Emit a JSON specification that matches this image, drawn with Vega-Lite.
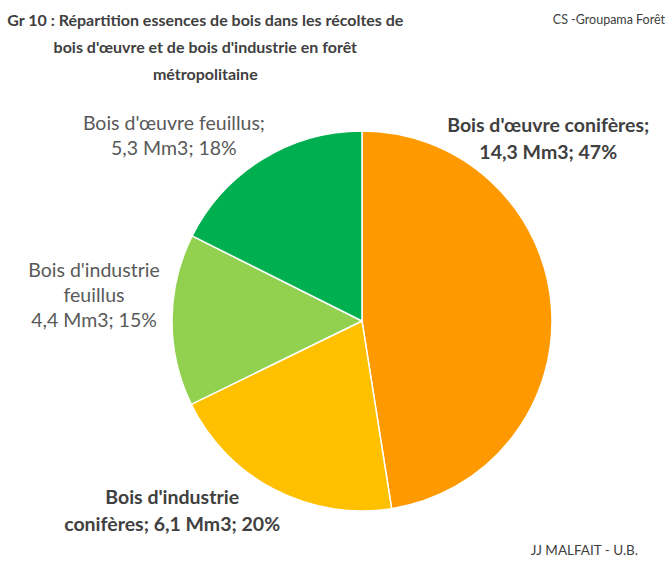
{
  "$schema": "https://vega.github.io/schema/vega-lite/v6.json",
  "autosize": "none",
  "width": 380,
  "height": 380,
  "padding": {"left": 172, "top": 131, "right": 116, "bottom": 55},
  "background": "white",
  "config": {"view": {"stroke": null}, "font": "Lato"},
  "title": {
    "text": ["Gr 10 : Répartition essences de bois dans les récoltes de", "bois d'œuvre et de bois d'industrie en forêt", "métropolitaine"],
    "anchor": "start",
    "align": "center",
    "baseline": "top",
    "dx": 177,
    "dy": 152,
    "offset": 0,
    "font": "Lato",
    "fontSize": 16,
    "fontWeight": "bold",
    "color": "#404040",
    "lineHeight": 27
  },
  "data": {
    "values": [
      {"ordre": 1, "essence": "Bois d'œuvre conifères", "volume": 14.3, "label": "Bois d'œuvre conifères;\n14,3 Mm3; 47%"},
      {"ordre": 2, "essence": "Bois d'industrie conifères", "volume": 6.1, "label": "Bois d'industrie\nconifères; 6,1 Mm3; 20%"},
      {"ordre": 3, "essence": "Bois d'industrie feuillus", "volume": 4.4, "label": "Bois d'industrie\nfeuillus\n4,4 Mm3; 15%"},
      {"ordre": 4, "essence": "Bois d'œuvre feuillus", "volume": 5.3, "label": "Bois d'œuvre feuillus;\n5,3 Mm3; 18%"}
    ]
  },
  "layer": [
    {
      "mark": {"type": "arc", "outerRadius": 190, "stroke": "white", "strokeWidth": 1.5},
      "encoding": {
        "theta": {"field": "volume", "type": "quantitative", "stack": true},
        "order": {"field": "ordre", "type": "ordinal"},
        "color": {
          "field": "essence", "type": "nominal", "legend": null,
          "scale": {
            "domain": ["Bois d'œuvre conifères", "Bois d'industrie conifères", "Bois d'industrie feuillus", "Bois d'œuvre feuillus"],
            "range": ["#FF9900", "#FFC000", "#92D050", "#00B050"]
          }
        }
      }
    },
    {
      "mark": {"type": "text", "radius": 240, "dx": -53, "dy": -176, "fontWeight": "bold", "fontSize": 19.5, "color": "#404040", "lineBreak": "\n", "align": "center", "baseline": "middle", "lineHeight": 27},
      "encoding": {
        "theta": {"field": "volume", "type": "quantitative", "stack": true},
        "order": {"field": "ordre", "type": "ordinal"},
        "text": {"condition": {"test": "datum.ordre === 1", "field": "label"}, "value": ""}
      }
    },
    {
      "mark": {"type": "text", "radius": 240, "dx": -79, "dy": -36, "fontWeight": "bold", "fontSize": 19.5, "color": "#404040", "lineBreak": "\n", "align": "center", "baseline": "middle", "lineHeight": 27},
      "encoding": {
        "theta": {"field": "volume", "type": "quantitative", "stack": true},
        "order": {"field": "ordre", "type": "ordinal"},
        "text": {"condition": {"test": "datum.ordre === 2", "field": "label"}, "value": ""}
      }
    },
    {
      "mark": {"type": "text", "radius": 240, "dx": -28, "dy": -49, "fontSize": 19.5, "color": "#595959", "lineBreak": "\n", "align": "center", "baseline": "middle", "lineHeight": 25},
      "encoding": {
        "theta": {"field": "volume", "type": "quantitative", "stack": true},
        "order": {"field": "ordre", "type": "ordinal"},
        "text": {"condition": {"test": "datum.ordre === 3", "field": "label"}, "value": ""}
      }
    },
    {
      "mark": {"type": "text", "radius": 240, "dx": -62, "dy": 7, "fontSize": 19.5, "color": "#595959", "lineBreak": "\n", "align": "center", "baseline": "middle", "lineHeight": 25},
      "encoding": {
        "theta": {"field": "volume", "type": "quantitative", "stack": true},
        "order": {"field": "ordre", "type": "ordinal"},
        "text": {"condition": {"test": "datum.ordre === 4", "field": "label"}, "value": ""}
      }
    },
    {
      "data": {"values": [{"note": "CS -Groupama Forêt"}]},
      "mark": {"type": "text", "font": "Lato", "fontSize": 12.5, "color": "#404040", "align": "right", "baseline": "middle"},
      "encoding": {"text": {"field": "note"}, "x": {"value": 493}, "y": {"value": -111}}
    },
    {
      "data": {"values": [{"note": "JJ MALFAIT -  U.B."}]},
      "mark": {"type": "text", "font": "Lato", "fontSize": 13.5, "color": "#404040", "align": "right", "baseline": "middle"},
      "encoding": {"text": {"field": "note"}, "x": {"value": 466}, "y": {"value": 420}}
    }
  ]
}
